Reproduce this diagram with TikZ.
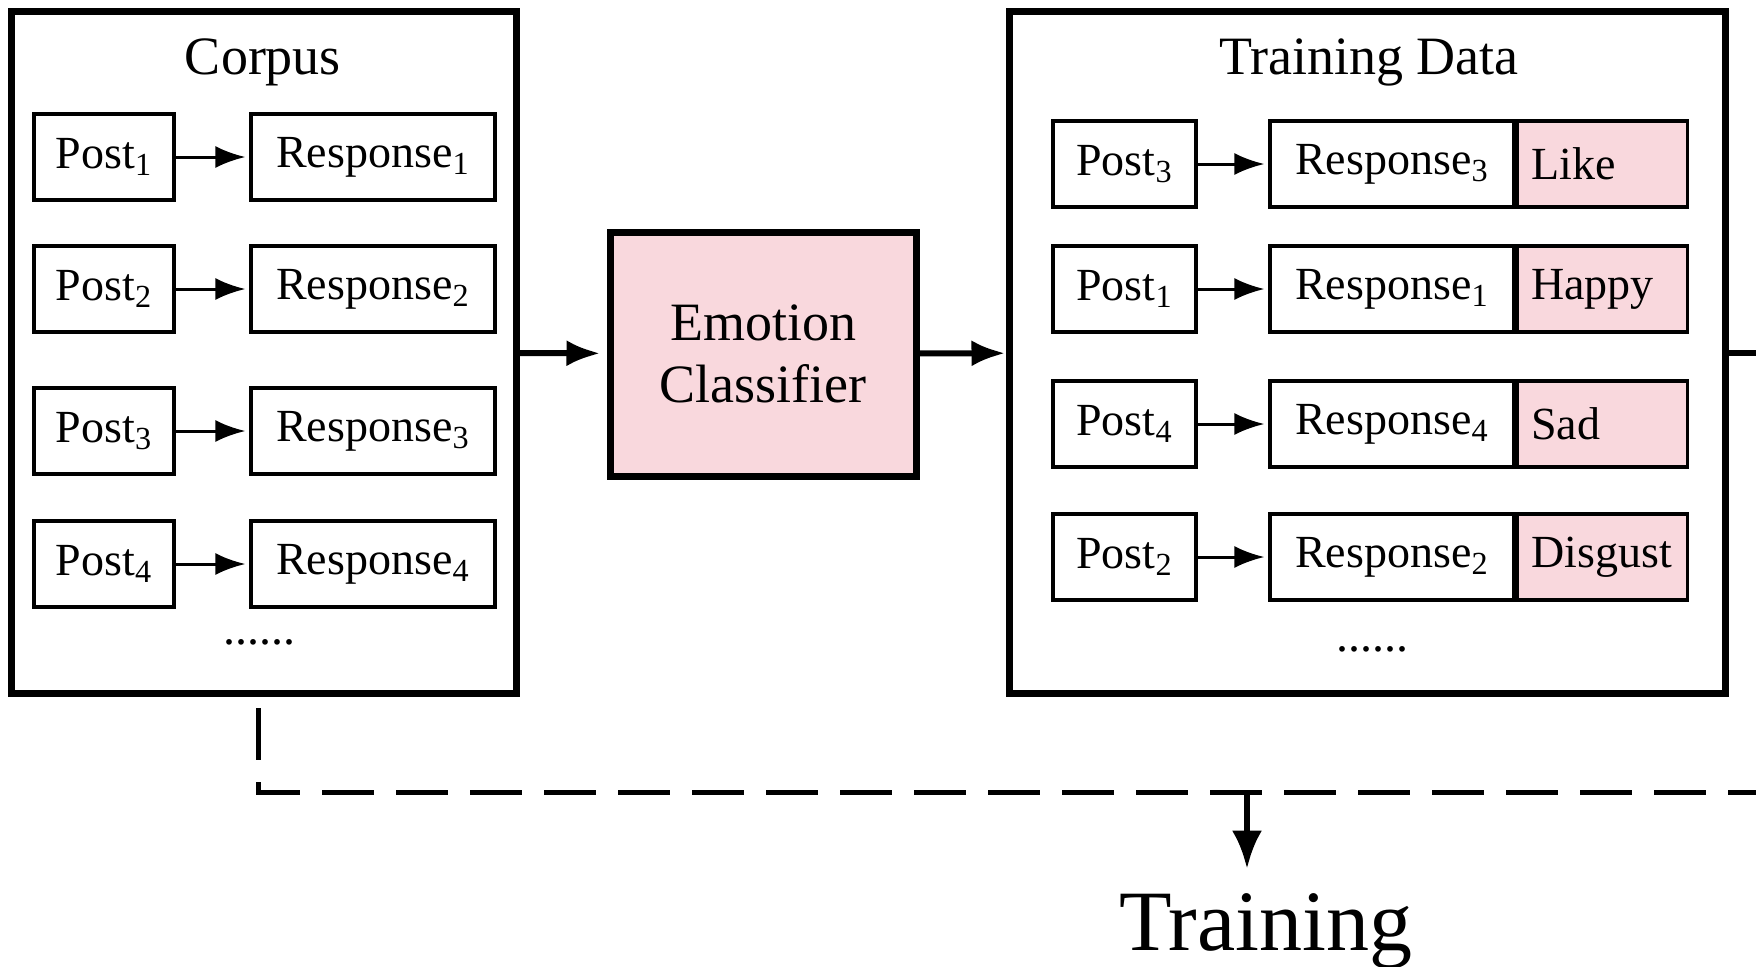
\documentclass[tikz,border=0pt]{standalone}
\usepackage{fontspec}
\setmainfont{Liberation Serif}
\usepackage{tikz}
\usetikzlibrary{arrows.meta}

\definecolor{emopink}{RGB}{249,216,221}

\tikzset{
  framebox/.style={draw, line width=3.5pt, inner sep=0pt},
  headtext/.style={inner sep=0pt, anchor=base, font=\fontsize{27}{31}\selectfont},
  postbox/.style={draw, line width=1.6pt, inner sep=0pt, minimum width=70pt, minimum height=43pt, font=\fontsize{23}{27}\selectfont},
  respbox/.style={postbox, minimum width=122pt},
  tagbox/.style={postbox, fill=emopink, anchor=west, minimum width=85pt, text width=71pt, inner xsep=7pt, align=left},
  smallarrow/.style={line width=1.5pt, -{Latex[length=15pt,width=11pt]}, shorten >=2pt},
  bigarrow/.style={line width=3pt, -{Latex[length=17pt,width=13pt]}},
  feedback/.style={line width=2.5pt, dash pattern=on 26pt off 11pt},
}

\begin{document}
\begin{tikzpicture}[x=0.5pt,y=0.5pt,yscale=-1]
\useasboundingbox (0,0) rectangle (1756,966);

%Frames
\node[framebox, minimum width=252.5pt, minimum height=341pt] (corpus) at (263.5,352) {};
\node[framebox, minimum width=358pt, minimum height=341pt] (traindata) at (1367,352) {};
\node[framebox, fill=emopink, minimum width=153pt, minimum height=122pt, align=center,
      font=\fontsize{27}{31}\selectfont] (classifier) at (763,354) {Emotion\\Classifier};

% Text Node
\node[headtext] (corpuslabel) at (263,74) {Corpus};
% Text Node
\node[headtext] (trainlabel) at (1369,74) {Training Data};

%Corpus pairs
\node[postbox] (post1) at (104,157) {Post\textsubscript{1}};
\node[respbox] (resp1) at (373,157) {Response\textsubscript{1}};
\node[postbox] (post2) at (104,289) {Post\textsubscript{2}};
\node[respbox] (resp2) at (373,289) {Response\textsubscript{2}};
\node[postbox] (post3) at (104,431) {Post\textsubscript{3}};
\node[respbox] (resp3) at (373,431) {Response\textsubscript{3}};
\node[postbox] (post4) at (104,564) {Post\textsubscript{4}};
\node[respbox] (resp4) at (373,564) {Response\textsubscript{4}};
\node[inner sep=0pt, font=\fontsize{24}{28}\selectfont] (corpusdots) at (259,642) {......};

\draw[smallarrow] (post1) -- (resp1);
\draw[smallarrow] (post2) -- (resp2);
\draw[smallarrow] (post3) -- (resp3);
\draw[smallarrow] (post4) -- (resp4);

%Labelled pairs
\node[postbox, minimum width=71.5pt] (lpost3) at (1124.5,164) {Post\textsubscript{3}};
\node[respbox] (lresp3) at (1392,164) {Response\textsubscript{3}};
\node[tagbox] (tag3) at (lresp3.east) {Like};
\node[postbox, minimum width=71.5pt] (lpost1) at (1124.5,289) {Post\textsubscript{1}};
\node[respbox] (lresp1) at (1392,289) {Response\textsubscript{1}};
\node[tagbox] (tag1) at (lresp1.east) {Happy};
\node[postbox, minimum width=71.5pt] (lpost4) at (1124.5,424) {Post\textsubscript{4}};
\node[respbox] (lresp4) at (1392,424) {Response\textsubscript{4}};
\node[tagbox] (tag4) at (lresp4.east) {Sad};
\node[postbox, minimum width=71.5pt] (lpost2) at (1124.5,557) {Post\textsubscript{2}};
\node[respbox] (lresp2) at (1392,557) {Response\textsubscript{2}};
\node[tagbox] (tag2) at (lresp2.east) {Disgust};
\node[inner sep=0pt, font=\fontsize{24}{28}\selectfont] (traindots) at (1372,649) {......};

\draw[smallarrow] (lpost3) -- (lresp3);
\draw[smallarrow] (lpost1) -- (lresp1);
\draw[smallarrow] (lpost4) -- (lresp4);
\draw[smallarrow] (lpost2) -- (lresp2);

%Main flow
\draw[bigarrow, shorten >=3pt] (corpus) -- (classifier);
\draw[bigarrow] (classifier) -- (traindata);
\coordinate (exitR) at (1756,353);
\draw[line width=3pt] (traindata.east |- exitR) -- (exitR);

%Feedback to training
\coordinate (dashtop) at (258,708);
\coordinate (dashcorner) at (258,792);
\coordinate (dashend) at (1756,792);
\coordinate (merge) at (1247,792);
\draw[feedback] (dashtop) -- (dashcorner) -- (dashend);

% Text Node
\node[inner sep=0pt, anchor=base, font=\fontsize{43}{48}\selectfont] (training) at (1266,950) {Training};
\draw[line width=3pt, -{Latex[length=19pt,width=15pt]}, shorten >=12pt] (merge) -- (merge |- training.north);

\end{tikzpicture}
\end{document}
